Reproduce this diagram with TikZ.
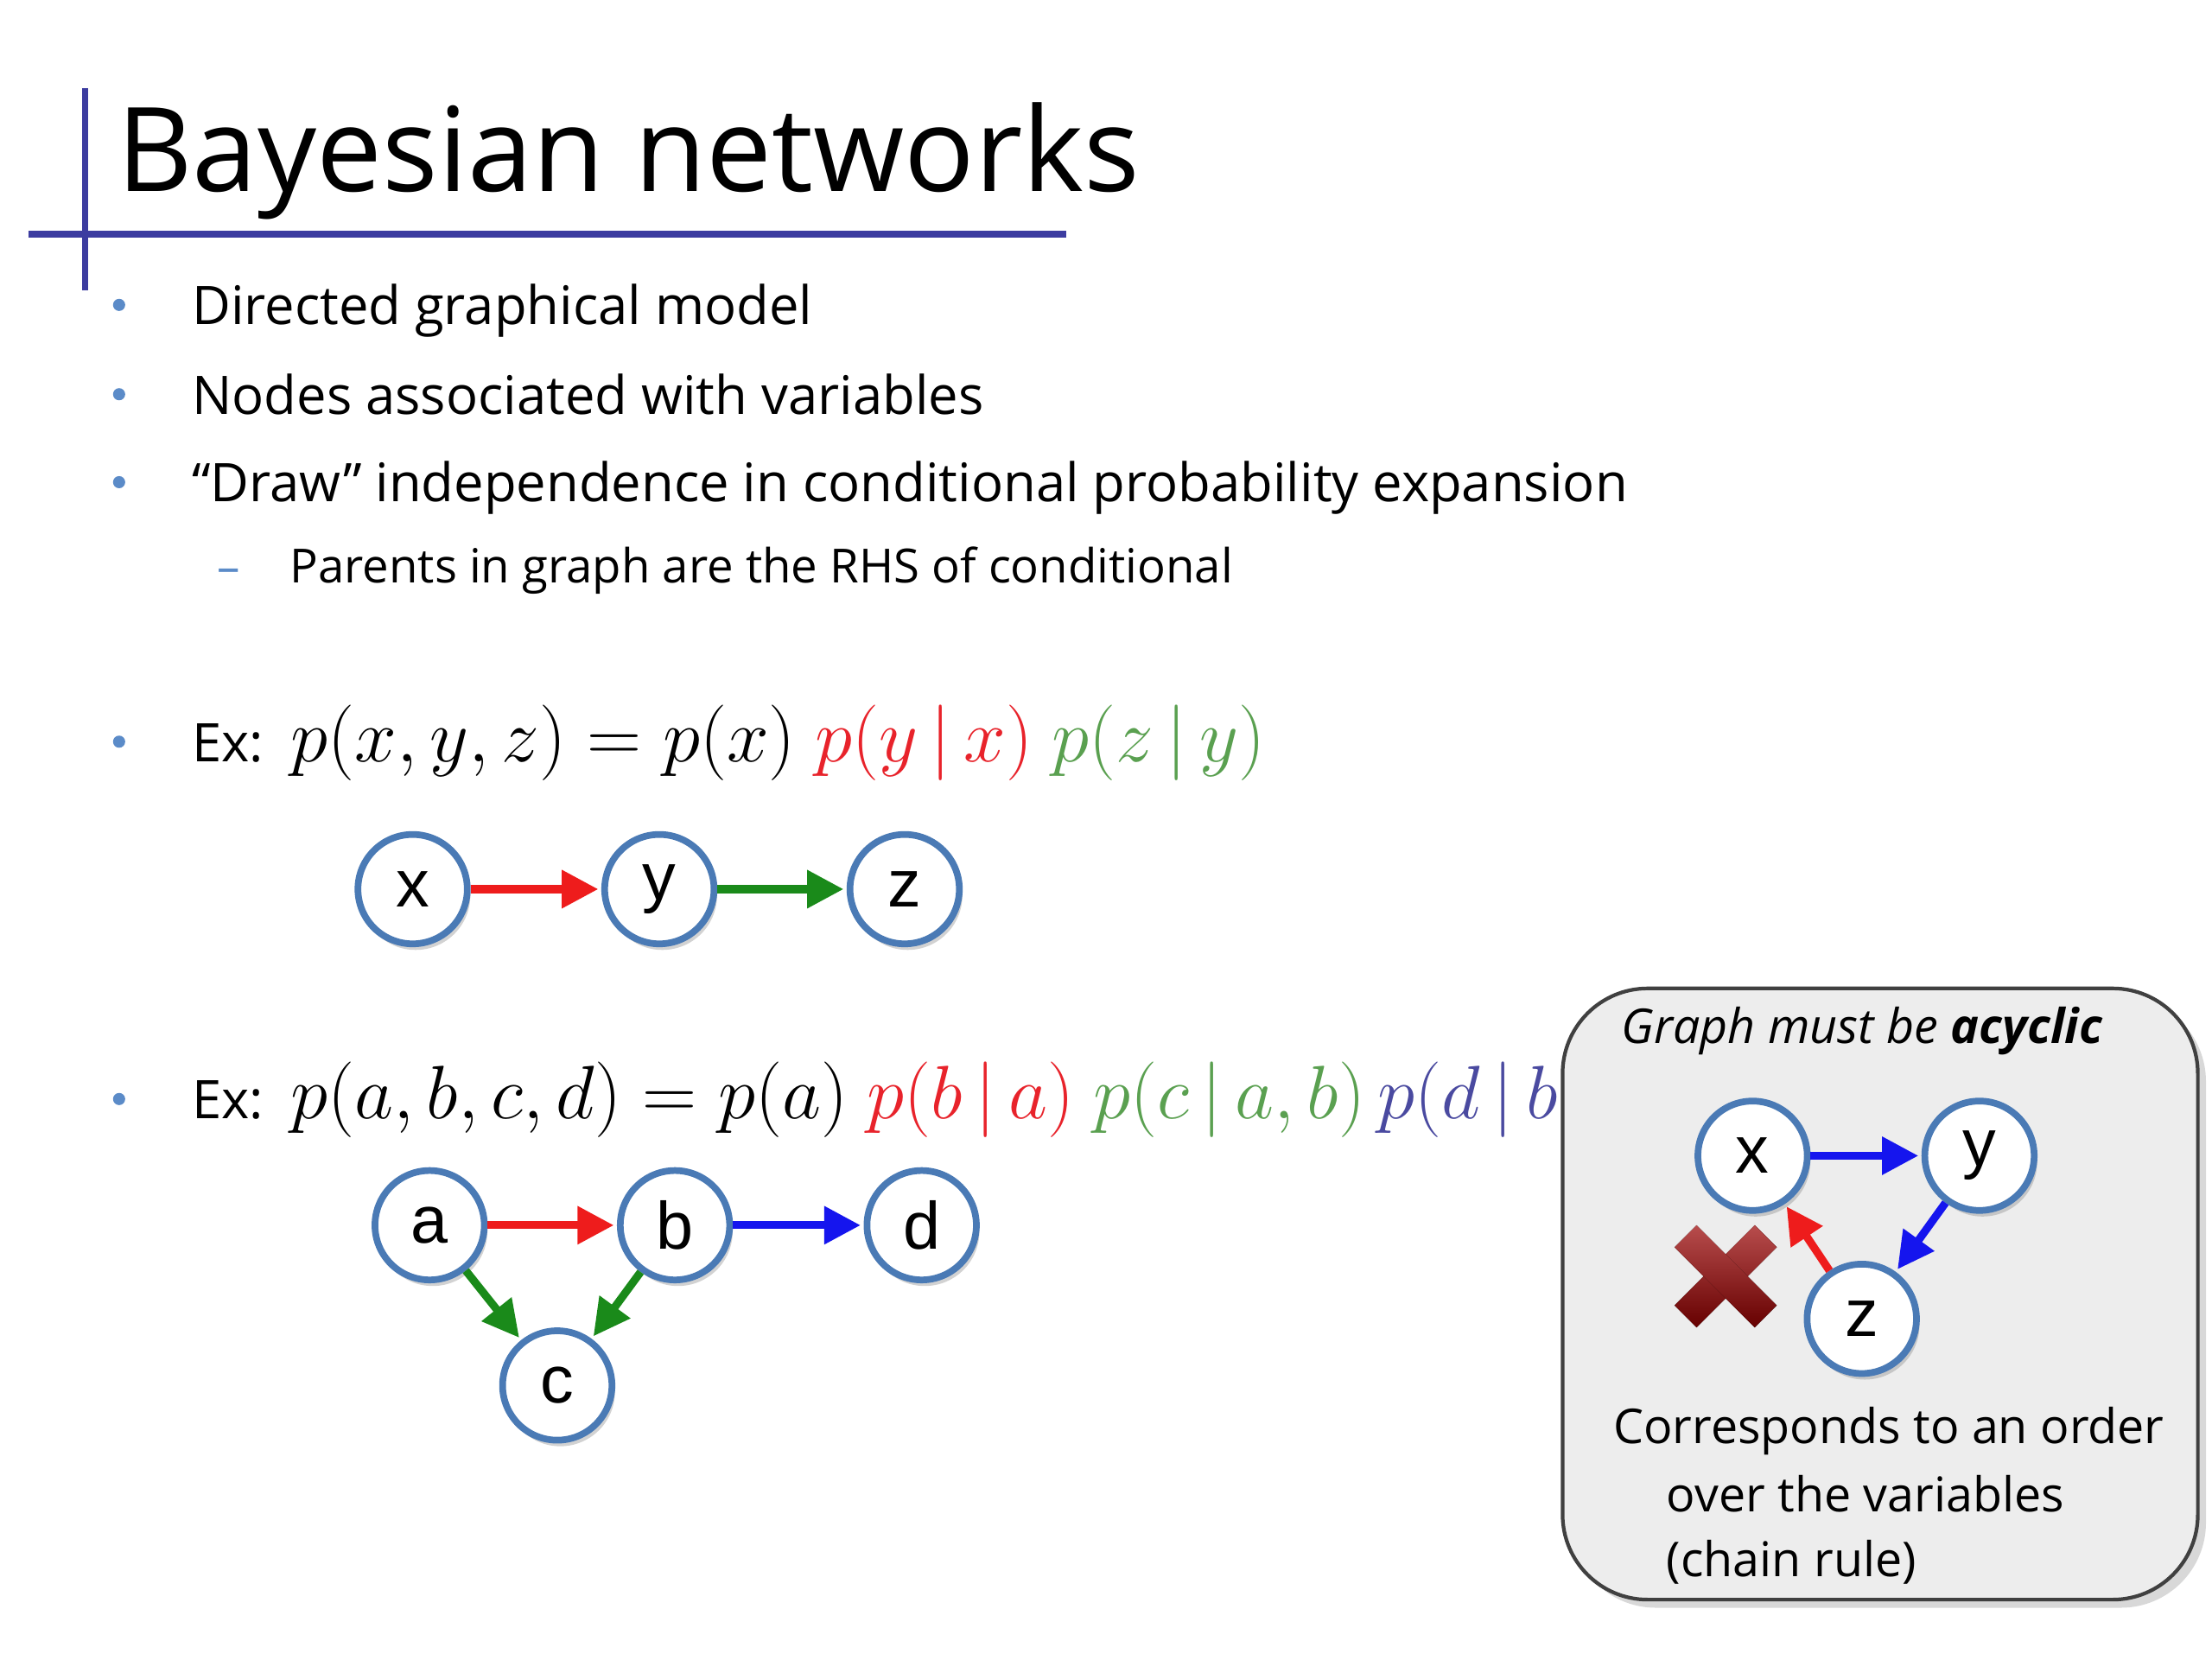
\documentclass[tikz,border=0pt]{standalone}
\usepackage{fontspec}
\setmainfont{Open Sans}
\newfontfamily\arialf{Liberation Sans}
\usetikzlibrary{arrows.meta,shadows}
\definecolor{titleblue}{HTML}{3C3CA0}
\definecolor{bulletblue}{HTML}{5B8BC8}
\definecolor{nodeblue}{HTML}{4A7AB5}
\definecolor{mred}{HTML}{E8232B}
\definecolor{mgreen}{HTML}{5AA050}
\definecolor{mblue}{HTML}{4A4AA0}
\definecolor{ared}{HTML}{EE1C1C}
\definecolor{agreen}{HTML}{1A8A1A}
\definecolor{ablue}{HTML}{1515EE}
\tikzset{
  x=0.01641cm, y=-0.01641cm,
  vnode/.style={circle, draw=nodeblue, line width=2.2pt, fill=white, minimum size=36pt, inner sep=0pt,
    font=\arialf\fontsize{22}{22}\selectfont, drop shadow={opacity=0.35, shadow xshift=1pt, shadow yshift=-2pt}},
  arr/.style={line width=2.6pt, -{Triangle[length=12pt,width=12pt]}, shorten >=1pt},
  btext/.style={anchor=base west, inner sep=0pt, font=\fontsize{17.5}{20}\selectfont},
  bdot/.style={circle, fill=bulletblue, inner sep=0pt, minimum size=4pt},
}
\newcommand{\bigmath}[1]{{\fontsize{24.3}{26}\selectfont$#1$}}
\begin{document}
\begin{tikzpicture}
\useasboundingbox (0,0) rectangle (1560,1170);
\fill[white] (0,0) rectangle (1560,1170);
% title
\draw[titleblue, line width=2.2pt] (60,62) -- (60,205);
\draw[titleblue, line width=2.2pt] (20,165) -- (752,165);
\node[anchor=base west, inner sep=0pt, font=\fontsize{38.5}{40}\selectfont] (title) at (82,135) {Bayesian networks};
% bullets
\foreach \yy/\nm in {217/b1,280/b2,342/b3,525/b4,777/b5} \node[bdot] (\nm) at (84,\yy-2) {};
\node[btext] (t1) at (135,229) {Directed graphical model};
\node[btext] (t2) at (135,292) {Nodes associated with variables};
\node[btext] (t3) at (135,354) {“Draw” independence in conditional probability expansion};
\node[anchor=base west, inner sep=0pt, text=bulletblue, font=\fontsize{15}{18}\selectfont] (dash) at (153,411) {--};
\node[anchor=base west, inner sep=0pt, font=\fontsize{15.5}{18}\selectfont] (t4) at (204,411) {Parents in graph are the RHS of conditional};
\node[btext] (t5) at (135,537) {Ex:\hspace{9pt}\bigmath{p(x,y,z)=p(x)\ \color{mred}p(y\,|\,x)\ \color{mgreen}p(z\,|\,y)}};
\node[btext] (t6) at (135,789) {Ex:\hspace{9pt}\bigmath{p(a,b,c,d)=p(a)\ \color{mred}p(b\,|\,a)\ \color{mgreen}p(c\,|\,a,b)\,\color{mblue}p(d\,|\,b)}};
% graph 1
\node[vnode] (x1) at (291,627) {x};
\node[vnode] (y1) at (465,627) {y};
\node[vnode] (z1) at (638,627) {z};
\draw[arr, ared] (x1) -- (y1);
\draw[arr, agreen] (y1) -- (z1);
% graph 2
\node[vnode] (a) at (303,864) {a};
\node[vnode] (b) at (476,864) {b};
\node[vnode] (d) at (650,864) {d};
\node[vnode] (c) at (393,977) {c};
\draw[arr, ared] (a) -- (b);
\draw[arr, ablue] (b) -- (d);
\draw[arr, agreen] (a) -- (c);
\draw[arr, agreen] (b) -- (c);
% box
\draw[black!75, line width=1.2pt, fill=black!7, rounded corners=28pt, drop shadow={opacity=0.3}]
  (1102,697) rectangle (1550,1128);
\node[font=\itshape\fontsize{15.8}{19}\selectfont, anchor=base, inner sep=0pt] (bt) at (1313,736) {Graph must be \textbf{acyclic}};
% cross
\begin{scope}[shift={(1217,900)}]
\fill[top color=red!60!black!70, bottom color=red!40!black, rotate=45] (-40,-11) rectangle (40,11);
\fill[top color=red!60!black!70, bottom color=red!40!black, rotate=-45] (-40,-11) rectangle (40,11);
\end{scope}
\coordinate (cross) at (1217,900);
\node[vnode] (x2) at (1236,815) {x};
\node[vnode] (y2) at (1396,815) {y};
\node[vnode] (z2) at (1313,930) {z};
\draw[arr, ablue] (x2) -- (y2);
\draw[arr, ablue] (y2) -- (z2);
\draw[arr, ared] (z2) -- (x2);
\node[anchor=base, inner sep=0pt, font=\fontsize{15.8}{19}\selectfont] (c1) at (1332,1018) {Corresponds to an order};
\node[anchor=base west, inner sep=0pt, font=\fontsize{15.8}{19}\selectfont] (c2) at (1175,1066) {over the variables};
\node[anchor=base west, inner sep=0pt, font=\fontsize{15.8}{19}\selectfont] (c3) at (1175,1112) {(chain rule)};
\end{tikzpicture}
\end{document}
